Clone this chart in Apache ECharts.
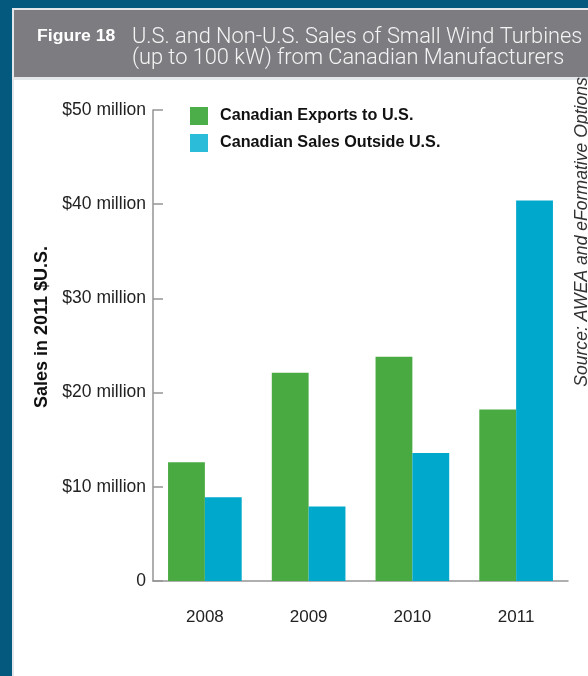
<!DOCTYPE html>
<html>
<head>
<meta charset="utf-8">
<script src="https://cdn.jsdelivr.net/npm/echarts@6/dist/echarts.min.js"></script>
<style>
  html, body { margin: 0; padding: 0; background: #ffffff; }
  #chart { width: 588px; height: 676px; }
</style>
</head>
<body>
<div id="chart"></div>
<script>
// Sales of small wind turbines (up to 100 kW) by Canadian manufacturers, $ million (2011 USD)
const years = ['2008', '2009', '2010', '2011'];
const exportsToUS = [12.6, 22.1, 23.8, 18.2];
const salesOutsideUS = [8.9, 7.9, 13.6, 40.4];
const seriesNames = ['Canadian Exports to U.S.', 'Canadian Sales Outside U.S.'];
const yTicks = [0, 10, 20, 30, 40, 50];

const sans = '"Liberation Sans", Arial, Helvetica, sans-serif';
const axisGray = '#959595';

const chart = echarts.init(document.getElementById('chart'), null, { renderer: 'canvas' });

chart.setOption({
  backgroundColor: '#ffffff',
  animation: false,
  graphic: [
    // page background and white panel
    { type: 'rect', z: -10, shape: { x: 0, y: 0, width: 588, height: 676 }, style: { fill: '#e3e7ea' } },
    { type: 'rect', z: -9, shape: { x: 14, y: 80, width: 574, height: 596 }, style: { fill: '#ffffff' } },
    // source note, running up the right edge (partly tucked under the title bar)
    { type: 'text', z: -8, x: 582.5, y: 232, rotation: Math.PI / 2,
      style: { text: 'Source: AWEA and eFormative Options', fill: '#333333', font: 'italic 17.6px ' + sans,
               align: 'center', verticalAlign: 'middle' } },
    // dark blue frame on the left and top
    { type: 'rect', z: -7, shape: { x: 0, y: 0, width: 12, height: 676 }, style: { fill: '#04597f' } },
    { type: 'rect', z: -7, shape: { x: 0, y: 0, width: 588, height: 8 }, style: { fill: '#04597f' } },
    { type: 'rect', z: -7, shape: { x: 12, y: 8, width: 576, height: 2 }, style: { fill: '#e3e7ea' } },
    // title bar
    { type: 'rect', z: -6, shape: { x: 14, y: 10, width: 574, height: 67 }, style: { fill: '#7d7c81' } },
    { type: 'text', z: -5, x: 37, y: 36.5, scaleX: 1.1,
      style: { text: 'Figure 18', fill: '#ffffff', font: 'bold 16px ' + sans, verticalAlign: 'middle' } },
    { type: 'text', z: -5, x: 132, y: 27.5,
      style: { text: 'U.S. and Non-U.S. Sales of Small Wind Turbines\n(up to 100 kW) from Canadian Manufacturers',
               fill: '#f4f4f4', font: '300 21.8px Roboto, ' + sans, lineHeight: 21 } },
    // y-axis title
    { type: 'text', x: 42, y: 327, rotation: Math.PI / 2,
      style: { text: 'Sales in 2011 $U.S.', fill: '#111111', font: 'bold 18px ' + sans,
               align: 'center', verticalAlign: 'middle' } }
  ],
  legend: {
    left: 185,
    top: 102,
    orient: 'vertical',
    itemWidth: 18,
    itemHeight: 18,
    itemGap: 9,
    icon: 'rect',
    selectedMode: false,
    textStyle: { fontFamily: sans, fontWeight: 'bold', fontSize: 16.2, color: '#111111', padding: [0, 0, 0, 7] },
    data: [
      { name: seriesNames[0], itemStyle: { color: '#4cae48' } },
      { name: seriesNames[1], itemStyle: { color: '#2bbcd9' } }
    ]
  },
  grid: { left: 153, right: 20, top: 110, bottom: 95, containLabel: false },
  xAxis: {
    type: 'category',
    data: years,
    axisLine: { lineStyle: { color: axisGray, width: 1.5 } },
    axisTick: { inside: true, length: 12, lineStyle: { color: axisGray, width: 1.5 } },
    axisLabel: { margin: 28, fontFamily: sans, fontSize: 17, color: '#222222' }
  },
  yAxis: {
    type: 'value',
    min: yTicks[0],
    max: yTicks[yTicks.length - 1],
    interval: 10,
    axisLine: { show: true, lineStyle: { color: axisGray, width: 1.5 } },
    axisTick: { show: true, inside: true, length: 10, lineStyle: { color: axisGray, width: 1.5 } },
    splitLine: { show: false },
    axisLabel: {
      margin: 7, fontFamily: sans, fontSize: 17.5, color: '#222222',
      formatter: v => v === 0 ? '0' : '$' + v + ' million'
    }
  },
  series: [
    { name: seriesNames[0], type: 'bar', data: exportsToUS, itemStyle: { color: '#4aaa42' },
      barGap: '0%', barCategoryGap: '29%' },
    { name: seriesNames[1], type: 'bar', data: salesOutsideUS, itemStyle: { color: '#00a9cc' },
      barGap: '0%', barCategoryGap: '29%' }
  ]
});
</script>
</body>
</html>
